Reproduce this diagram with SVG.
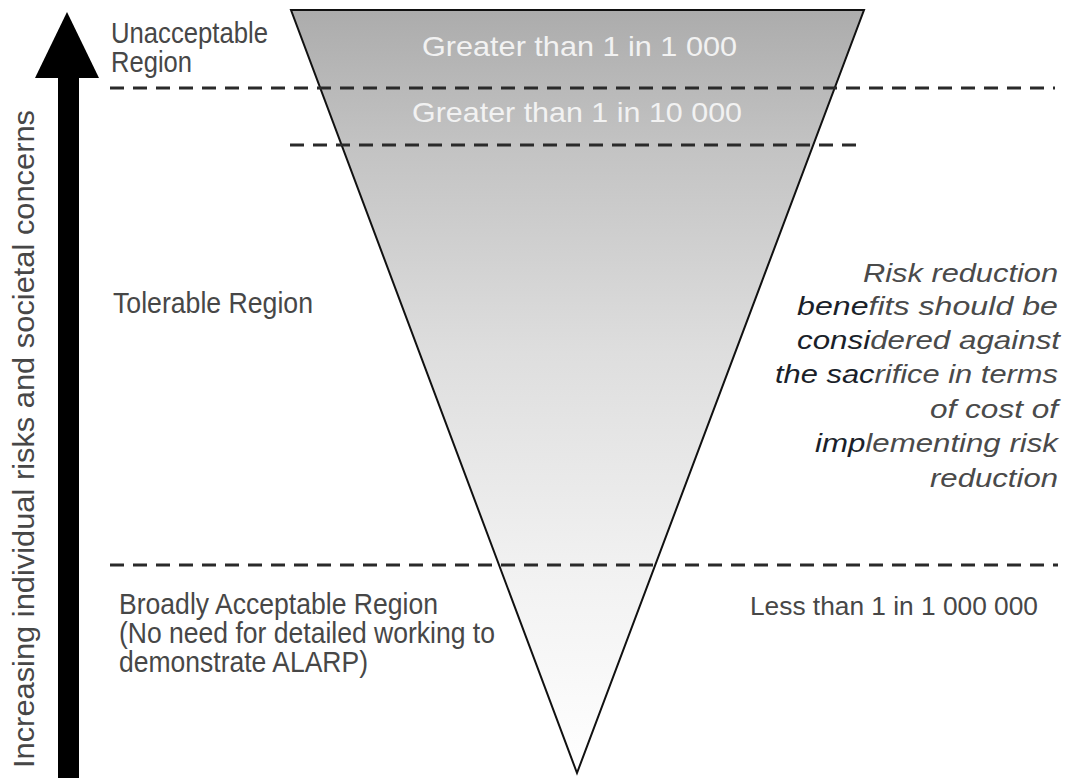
<svg xmlns="http://www.w3.org/2000/svg" width="1065" height="778" viewBox="0 0 1065 778">
  <defs>
    <linearGradient id="triGrad" x1="0" y1="10" x2="0" y2="773" gradientUnits="userSpaceOnUse">
      <stop offset="0" stop-color="#acacac"/>
      <stop offset="0.18" stop-color="#c3c3c3"/>
      <stop offset="0.45" stop-color="#dedede"/>
      <stop offset="0.73" stop-color="#f1f1f1"/>
      <stop offset="1" stop-color="#ffffff"/>
    </linearGradient>
    <style>
      .lbl { font-family: "Liberation Sans", Arial, sans-serif; font-size: 29px; fill: #474747; }
      .band { font-family: "Liberation Sans", Arial, sans-serif; font-size: 28px; fill: #f2f2f2; }
      .note { font-family: "Liberation Sans", Arial, sans-serif; font-size: 26px; font-style: italic; fill: #4a4a4a; text-anchor: end; }
      .dk { fill: #1a1f2a; }
      .dash { stroke: #2a2a2a; stroke-width: 3; stroke-dasharray: 14 9; fill: none; }
    </style>
  </defs>
  <rect width="1065" height="778" fill="#ffffff"/>

  <g id="triangle">
    <polygon points="291,10 864,10 577,773" fill="url(#triGrad)" stroke="#111" stroke-width="2"/>
  </g>

  <g id="connectors">
    <line class="dash" x1="110" y1="88" x2="1055" y2="88"/>
    <line class="dash" x1="290" y1="145" x2="862" y2="145"/>
    <line class="dash" x1="110" y1="565" x2="1058" y2="565"/>
  </g>

  <g id="axis-arrow">
    <polygon points="67,12 35,78 99,78" fill="#000"/>
    <rect x="58" y="76" width="21" height="702" fill="#000"/>
    <text class="lbl" transform="translate(34,768) rotate(-90)" textLength="658" lengthAdjust="spacingAndGlyphs">Increasing individual risks and societal concerns</text>
  </g>

  <g id="unacceptable">
    <text class="lbl" x="111" y="43" textLength="157" lengthAdjust="spacingAndGlyphs">Unacceptable</text>
    <text class="lbl" x="111" y="72" textLength="81" lengthAdjust="spacingAndGlyphs">Region</text>
  </g>

  <g id="band-1000">
    <text class="band" x="422" y="56" textLength="315" lengthAdjust="spacingAndGlyphs">Greater than 1 in 1 000</text>
  </g>
  <g id="band-10000">
    <text class="band" x="412" y="122" textLength="330" lengthAdjust="spacingAndGlyphs">Greater than 1 in 10 000</text>
  </g>

  <g id="tolerable">
    <text class="lbl" x="113" y="313" textLength="200" lengthAdjust="spacingAndGlyphs">Tolerable Region</text>
  </g>

  <g id="note">
    <text class="note" x="1058" y="282" textLength="195" lengthAdjust="spacingAndGlyphs">Risk reduction</text>
    <text class="note" x="1058" y="315" textLength="261" lengthAdjust="spacingAndGlyphs"><tspan class="dk">bene</tspan>fits should be</text>
    <text class="note" x="1060" y="349" textLength="263" lengthAdjust="spacingAndGlyphs"><tspan class="dk">consi</tspan>dered against</text>
    <text class="note" x="1058" y="383" textLength="283" lengthAdjust="spacingAndGlyphs"><tspan class="dk">the sac</tspan>rifice in terms</text>
    <text class="note" x="1058" y="418" textLength="128" lengthAdjust="spacingAndGlyphs">of cost of</text>
    <text class="note" x="1058" y="452" textLength="243" lengthAdjust="spacingAndGlyphs"><tspan class="dk">imp</tspan>lementing risk</text>
    <text class="note" x="1058" y="487" textLength="128" lengthAdjust="spacingAndGlyphs">reduction</text>
  </g>

  <g id="broadly">
    <text class="lbl" x="119" y="614" textLength="319" lengthAdjust="spacingAndGlyphs">Broadly Acceptable Region</text>
    <text class="lbl" x="119" y="643" textLength="376" lengthAdjust="spacingAndGlyphs">(No need for detailed working to</text>
    <text class="lbl" x="119" y="672" textLength="249" lengthAdjust="spacingAndGlyphs">demonstrate ALARP)</text>
  </g>

  <g id="less-than">
    <text class="lbl" x="750" y="615" style="font-size:26.5px" textLength="288" lengthAdjust="spacingAndGlyphs">Less than 1 in 1 000 000</text>
  </g>
</svg>
